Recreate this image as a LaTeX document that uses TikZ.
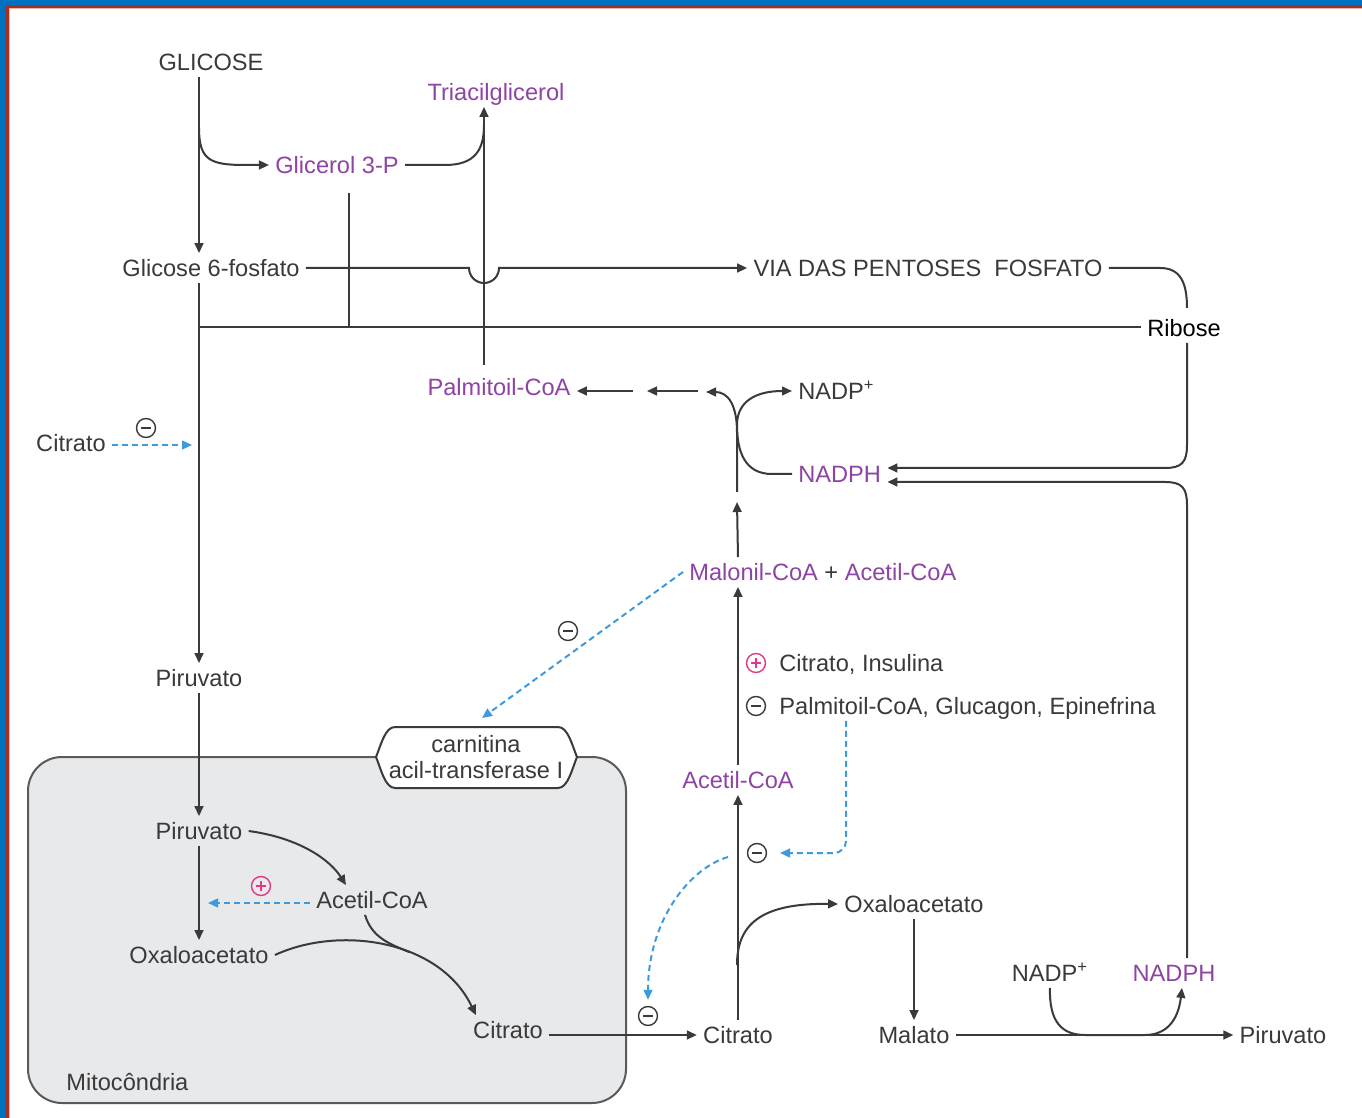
\documentclass[tikz,border=0pt]{standalone}
\usepackage{fontspec}
\setmainfont{Liberation Sans}
\usetikzlibrary{arrows.meta}
\definecolor{txt}{HTML}{3A3A3A}
\definecolor{purp}{RGB}{142,68,163}
\definecolor{bluec}{HTML}{3D9BDB}
\definecolor{pinkc}{HTML}{E3388A}
\definecolor{mitofill}{HTML}{E8E9EB}
\definecolor{mitodraw}{HTML}{5A5A5A}
\definecolor{frameblue}{HTML}{0070C0}
\definecolor{framered}{HTML}{A33224}
\definecolor{framepink}{HTML}{E8B4AE}
\begin{document}
\begin{tikzpicture}[x=0.5pt,y=-0.5pt,
  font=\fontsize{11.8}{14}\selectfont,
  lbl/.style={text=txt, inner sep=3pt, text height=8.5pt, text depth=0pt},
  plbl/.style={lbl, text=purp},
  ln/.style={draw=txt, line width=1pt},
  arr/.style={ln, -{Triangle[length=5pt,width=4.4pt]}},
  dsh/.style={draw=bluec, line width=1pt, dash pattern=on 3pt off 2pt, -{Triangle[length=5pt,width=4.4pt]}},
  sgn/.style={circle, draw=txt, line width=0.7pt, minimum size=9.5pt, inner sep=0pt},
  sgnminus/.style={sgn, path picture={\draw[line width=0.7pt, draw=txt] ([xshift=-2.3pt]path picture bounding box.center) -- ([xshift=2.3pt]path picture bounding box.center);}},
  sgnplus/.style={sgn, draw=pinkc, path picture={\draw[line width=0.7pt, draw=pinkc] ([xshift=-2.3pt]path picture bounding box.center) -- ([xshift=2.3pt]path picture bounding box.center) ([yshift=-2.3pt]path picture bounding box.center) -- ([yshift=2.3pt]path picture bounding box.center);}}
]
\useasboundingbox (0,0) rectangle (1362,1118);
\fill[white] (0,0) rectangle (1362,1118);
% frame
\fill[frameblue] (0,0) rectangle (1362,5);
\fill[frameblue] (0,0) rectangle (5,1118);
\fill[framered] (5,5) rectangle (1362,8.5);
\fill[framered] (5,5) rectangle (8.5,1118);
\fill[framepink] (8.5,8.5) rectangle (1362,9.5);
\fill[framepink] (8.5,8.5) rectangle (9.5,1118);

% mitochondria
\draw[fill=mitofill, draw=mitodraw, line width=1pt, rounded corners=17pt] (28,757) rectangle (626,1103);
\draw[fill=white, draw=txt, line width=1pt] (395,727) -- (558,727) .. controls (568,727) and (572,745) .. (577,757) .. controls (572,769) and (568,788) .. (558,788) -- (395,788) .. controls (385,788) and (381,769) .. (376,757) .. controls (381,745) and (385,727) .. (395,727) -- cycle;
\node[text=txt, align=center, inner sep=0pt, font=\fontsize{11.8}{13.2}\selectfont] (carn) at (476,757) {carnitina\\acil-transferase I};
\node[lbl, anchor=west] (mitolbl) at (60,1082) {Mitocôndria};

% nodes
\node[lbl] (glicose) at (211,62) {GLICOSE};
\node[plbl] (triacil) at (496,92) {Triacilglicerol};
\node[plbl] (glicerol) at (337,165) {Glicerol 3-P};
\node[lbl] (g6p) at (211,268) {Glicose 6-fosfato};
\node[lbl] (via) at (928,268) {VIA DAS PENTOSES\ \ FOSFATO};
\node[lbl, text=black] (ribose) at (1184,328) {Ribose};
\node[plbl] (palm) at (499,387) {Palmitoil-CoA};
\node[lbl, anchor=west] (nadp1) at (792,391) {NADP\textsuperscript{+}};
\node[plbl, anchor=west] (nadph1) at (792,474) {NADPH};
\node[lbl] (citL) at (71,443) {Citrato};
\node[lbl, anchor=west] (malonil) at (683,572) {\textcolor{purp}{Malonil-CoA} + \textcolor{purp}{Acetil-CoA}};
\node[sgnplus] (reg1s) at (756,663) {};
\node[lbl, anchor=west] (reg1t) at (773,663) {Citrato, Insulina};
\node[sgnminus] (reg2s) at (756,706) {};
\node[lbl, anchor=west] (reg2t) at (773,706) {Palmitoil-CoA, Glucagon, Epinefrina};
\node[lbl] (piruA) at (199,678) {Piruvato};
\node[lbl] (piruB) at (199,831) {Piruvato};
\node[lbl] (acetB) at (372,900) {Acetil-CoA};
\node[lbl] (oxaB) at (199,955) {Oxaloacetato};
\node[lbl] (citB) at (508,1030) {Citrato};
\node[sgnplus] (plusB) at (261,886) {};
\node[plbl] (acetC) at (738,780) {Acetil-CoA};
\node[lbl] (citC) at (738,1035) {Citrato};
\node[sgnminus] (minusC1) at (757,853) {};
\node[sgnminus] (minusC2) at (648,1016) {};
\node[sgnminus] (minusM) at (568,631) {};
\node[sgnminus] (minusL) at (146,428) {};
\node[lbl] (oxaC) at (914,904) {Oxaloacetato};
\node[lbl] (malato) at (914,1035) {Malato};
\node[lbl] (piruC) at (1283,1035) {Piruvato};
\node[lbl] (nadp2) at (1050,973) {NADP\textsuperscript{+}};
\node[plbl] (nadph2) at (1174,973) {NADPH};

% coordinates
\coordinate (j1) at (199,128);
\coordinate (xv) at (484,0);
\coordinate (j3) at (349,193);
\coordinate (h1) at (199,327);
\coordinate (xr) at (1187,0);
\coordinate (tipM) at (737,502);
\coordinate (cA) at (737,492);
\coordinate (tipA) at (706,392);
\coordinate (a2t) at (698,391);
\coordinate (a2h) at (647,391);
\coordinate (a1t) at (633,391);
\coordinate (tipCit) at (192,445);
\coordinate (tipMal) at (482,718);
\coordinate (cP) at (846,0);
\coordinate (tipP) at (780,853);
\coordinate (dC) at (728,857);
\coordinate (tipB) at (208,903);
\coordinate (jC) at (737,965);
\coordinate (palmTop) at (484,365);
\coordinate (mergeB) at (409,952);

% connectors top
\draw[arr] (glicose.south -| piruA) -- (g6p.north -| piruA);
\draw[arr] (j1) .. controls (199,160) and (210,165) .. (245,165) -- (glicerol.west);
\draw[ln] (glicerol.east) -- (445,165) .. controls (475,165) and (484,150) .. (484,125);
\draw[arr] (palmTop) -- (triacil.south -| xv);
\draw[arr] (g6p.east) -- (469,268) arc[start angle=180,end angle=0,radius=15] -- (via.west);
\draw[ln] (j3) -- (j3 |- h1);
\draw[ln] (h1) -- (ribose.west |- h1);
\draw[arr] (g6p.south -| piruA) -- (piruA.north);
\draw[ln] (via.east) -- (1160,268) .. controls (1180,268) and (1187,282) .. (1187,308);
\draw[arr] (ribose.south -| xr) -- (1187,445) .. controls (1187,462) and (1182,468) .. (1165,468) -- ([yshift=3pt]nadph1.east);
\draw[arr] (nadph2.north -| xr) -- (1187,505) .. controls (1187,488) and (1182,482) .. (1165,482) -- ([yshift=-4pt]nadph1.east);

% X reaction
\draw[arr] (cA) -- (737,432) .. controls (737,405) and (728,392) .. (tipA);
\draw[arr] (nadph1.west) -- (772,474) .. controls (745,474) and (737,452) .. (737,425) .. controls (737,402) and (755,391) .. (nadp1.west |- 391,391);
\draw[arr] (a2t) -- (a2h);
\draw[arr] (a1t) -- (a1t -| palm.east);

% right side
\draw[arr] (malonil.north -| acetC) -- (tipM);
\draw[arr] (acetC.north) -- (malonil.south -| acetC);
\draw[arr] (citC.north) -- (acetC.south);
\draw[arr] (jC) .. controls (737,925) and (760,903) .. (oxaC.west);
\draw[arr] (oxaC.south -| malato) -- (malato.north);
\draw[arr] (malato.east) -- (piruC.west);
\draw[arr] (nadp2.south) .. controls (1049,1022) and (1062,1035) .. (1085,1035) -- (1145,1035) .. controls (1165,1035) and (1178,1022) .. ([xshift=4pt]nadph2.south);

% mitochondria connectors
\draw[arr] (piruA.south) -- (piruB.north);
\draw[arr] (piruB.south) -- (oxaB.north);
\draw[arr] (piruB.east) .. controls (300,838) and (330,860) .. ([xshift=-13pt]acetB.north);
\draw[ln] ([xshift=-3.5pt]acetB.south) .. controls (372,938) and (390,944) .. (mergeB);
\draw[arr] (oxaB.east) .. controls (340,925) and (440,940) .. ([xshift=4.5pt]citB.north west);
\draw[arr] (citB.east |- citC.west) -- (citC.west);

% dashed regulation
\draw[dsh] (citL.east |- tipCit) -- (tipCit);
\draw[dsh] (malonil.west) -- (tipMal);
\draw[dsh] (acetB.west |- tipB) -- (tipB);
\draw[dsh, rounded corners=6pt] (reg2t.south -| cP) |- (tipP);
\draw[dsh] (dC) .. controls (690,868) and (648,920) .. ([yshift=3pt]minusC2.north);
\end{tikzpicture}
\end{document}
